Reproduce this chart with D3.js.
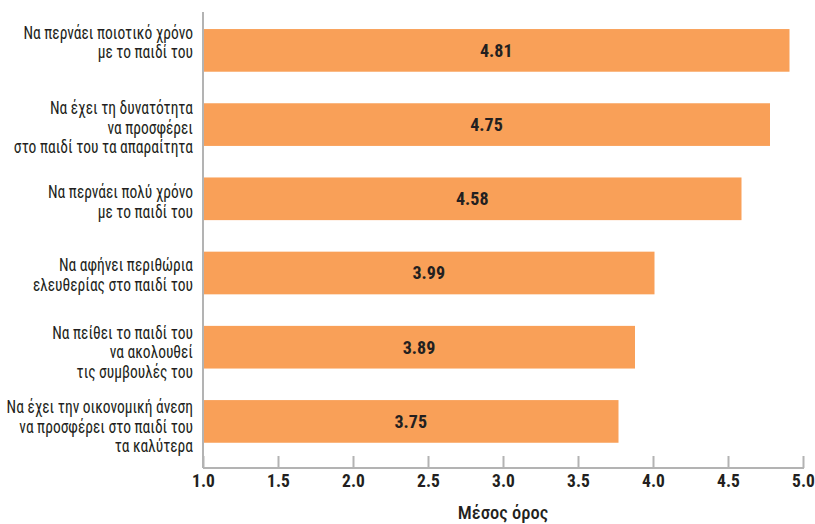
<!DOCTYPE html>
<html><head><meta charset="utf-8">
<script src="https://cdn.jsdelivr.net/npm/d3@7"></script>
<style>
body{margin:0;background:#fff;}
text{font-family:"Roboto Condensed","DejaVu Sans Condensed","Liberation Sans Narrow",Roboto,sans-serif;fill:#231f20;}
</style></head>
<body><svg id="c" width="815" height="524"></svg>
<script>
const categories = [
  ["Να περνάει ποιοτικό χρόνο","με το παιδί του"],
  ["Να έχει τη δυνατότητα","να προσφέρει","στο παιδί του τα απαραίτητα"],
  ["Να περνάει πολύ χρόνο","με το παιδί του"],
  ["Να αφήνει περιθώρια","ελευθερίας στο παιδί του"],
  ["Να πείθει το παιδί του","να ακολουθεί","τις συμβουλές του"],
  ["Να έχει την οικονομική άνεση","να προσφέρει στο παιδί του","τα καλύτερα"]
];
const barValues = [4.91, 4.78, 4.59, 4.01, 3.88, 3.77];
const valueLabels = ["4.81","4.75","4.58","3.99","3.89","3.75"];
const xTicks = [1.0,1.5,2.0,2.5,3.0,3.5,4.0,4.5,5.0];
const xTitle = "Μέσος όρος";

// layout tweaks (vertical shift of each category label block, px)
const labelShift = [-8, 3, 3, 2, 5, 5];

const svg = d3.select("#c");
const x = d3.scaleLinear().domain([1,5]).range([203,803]);
const y = d3.scaleBand().domain(d3.range(categories.length)).range([10.5,461.3]).paddingInner(0.425).paddingOuter(0.25);
const axisY = 468;

svg.selectAll("rect.bar").data(barValues).join("rect").attr("class","bar")
  .attr("x",x(1)).attr("y",(d,i)=>y(i)).attr("width",d=>x(d)-x(1)).attr("height",y.bandwidth())
  .attr("fill","#F9A058");

svg.selectAll("text.val").data(barValues).join("text").attr("class","val")
  .attr("x",d=>(x(1)+x(d))/2).attr("y",(d,i)=>y(i)+y.bandwidth()/2).attr("dy","0.36em")
  .attr("text-anchor","middle").style("font-size","18px").style("font-weight","bold")
  .text((d,i)=>valueLabels[i]);

// category labels
const lh = 19.5;
const lab = svg.append("g").attr("transform","translate(193,0) scale(0.885,1)");
categories.forEach((lines,i)=>{
  const cy = y(i)+y.bandwidth()/2 + labelShift[i];
  const t = lab.append("text").attr("text-anchor","end").style("font-size","17.5px");
  lines.forEach((ln,j)=>{
    t.append("tspan").attr("x",0).attr("y",cy + (j-(lines.length-1)/2)*lh).attr("dy","0.35em").text(ln);
  });
});

// axes
const xa = svg.append("g").attr("transform",`translate(0,${axisY})`)
  .call(d3.axisBottom(x).tickValues(xTicks).tickFormat(d3.format(".1f")).tickSize(-12).tickPadding(7));
xa.select(".domain").remove();
xa.selectAll(".tick line").attr("stroke","#b3b3b3").attr("stroke-width",2);
xa.selectAll(".tick text").style("font-size","17.5px").style("font-weight","bold").attr("fill","#231f20");
svg.append("line").attr("x1",x(1)).attr("x2",x(5)+1).attr("y1",axisY).attr("y2",axisY).attr("stroke","#b3b3b3").attr("stroke-width",2);
svg.append("line").attr("x1",x(1)).attr("x2",x(1)).attr("y1",12).attr("y2",axisY).attr("stroke","#b3b3b3").attr("stroke-width",2);

svg.append("text").attr("x",(x(1)+x(5))/2).attr("y",519).attr("text-anchor","middle")
  .style("font-size","18.5px").style("font-weight","500").text(xTitle);
</script></body></html>
